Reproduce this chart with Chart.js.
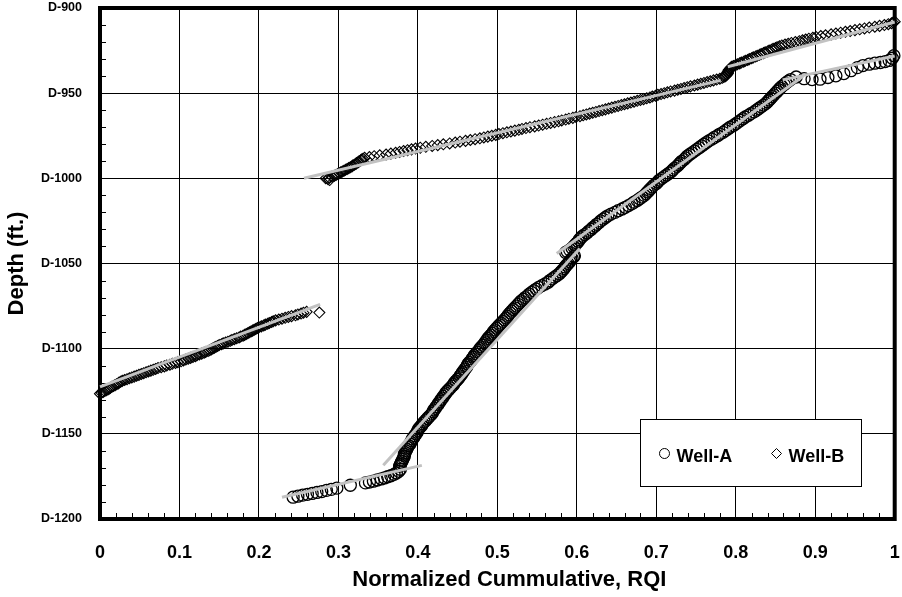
<!DOCTYPE html>
<html>
<head>
<meta charset="utf-8">
<script src="https://cdn.jsdelivr.net/npm/chart.js@4.4.1/dist/chart.umd.min.js"></script>
<style>
  html, body { margin: 0; padding: 0; background: #ffffff; }
  #wrap { width: 902px; height: 597px; }
</style>
</head>
<body>
<div id="wrap"><canvas id="chart" width="902" height="597"></canvas></div>
<script>
// ---- axis tick values and labels ----
const rqiTickValues = [0, 0.1, 0.2, 0.3, 0.4, 0.5, 0.6, 0.7, 0.8, 0.9, 1];
const rqiTickLabels = ['0', '0.1', '0.2', '0.3', '0.4', '0.5', '0.6', '0.7', '0.8', '0.9', '1'];
const depthTickValues = [900, 950, 1000, 1050, 1100, 1150, 1200];
const depthTickLabels = ['D-900', 'D-950', 'D-1000', 'D-1050', 'D-1100', 'D-1150', 'D-1200'];
const xAxisTitle = 'Normalized Cummulative, RQI';
const yAxisTitle = 'Depth (ft.)';

// ---- Well-A: normalized cumulative RQI vs depth (ft) ----
const wellA_depth = [
  // lower unit
  1187.2, 1186.6, 1186.0, 1185.5, 1185.0, 1184.4, 1183.9, 1183.2, 1182.6, 1181.9,
  1180.2, 1178.8, 1178.3, 1177.8, 1177.1, 1176.5, 1175.9, 1175.2, 1174.6, 1173.8,
  1173.0, 1172.0, 1170.8,
  // steep unit
  1169, 1167, 1165, 1163, 1161, 1159, 1157, 1155, 1153, 1151,
  1149, 1147, 1145, 1143, 1141, 1139, 1137, 1135, 1133, 1131,
  1129, 1127, 1125, 1123, 1121, 1119, 1117, 1115, 1113, 1111,
  1109, 1107, 1105, 1103, 1101, 1099, 1097, 1095, 1093, 1091,
  1089, 1087, 1085, 1083, 1081, 1079, 1077, 1075, 1073, 1071,
  1069, 1067, 1065, 1063, 1061, 1059, 1057, 1055, 1053, 1051,
  1049, 1047, 1045.5,
  1168, 1166, 1164, 1162, 1160, 1158, 1156, 1154, 1152, 1150,
  1148, 1146, 1144, 1142, 1140, 1138, 1136, 1134, 1132, 1130,
  1128, 1126, 1124, 1122, 1120, 1118, 1116, 1114, 1112, 1110,
  1108, 1106, 1104, 1102, 1100, 1098, 1096, 1094, 1092, 1090,
  1088, 1086, 1084, 1082, 1080, 1078, 1076, 1074, 1072, 1070,
  1068, 1066, 1064, 1062, 1060, 1058, 1056, 1054, 1052, 1050,
  1048, 1046,
  // middle unit
  1043.5, 1042, 1040, 1038, 1036, 1034, 1032, 1030, 1028, 1026,
  1024, 1022, 1020, 1018, 1016, 1014, 1012, 1010, 1008, 1006,
  1004, 1002, 1000, 998, 996, 994, 992, 990, 988, 986,
  984, 982, 980, 978, 976, 974, 972, 970, 968, 966,
  964, 962, 960, 958, 956, 954, 952, 950, 948, 946,
  944, 942,
  1043, 1041, 1039, 1037, 1035, 1033, 1031, 1029, 1027, 1025,
  1023, 1021, 1019, 1017, 1015, 1013, 1011, 1009, 1007, 1005,
  1003, 1001, 999, 997, 995, 993, 991, 989, 987, 985,
  983, 981, 979, 977, 975, 973, 971, 969, 967, 965,
  963, 961, 959, 957, 955, 953, 951, 949, 947, 945,
  943,
  // upper unit
  940.5, 941.5, 942.0, 941.8, 940.8, 939.8, 938.5, 936.8, 935.0, 933.8,
  933.0, 932.4, 932.0, 931.5, 930.8, 929.5, 928.0
];
const wellA_rqi = [
  // lower unit
  0.243, 0.249, 0.255, 0.261, 0.267, 0.273, 0.279, 0.285, 0.291, 0.298,
  0.315, 0.334, 0.339, 0.344, 0.349, 0.354, 0.358, 0.362, 0.366, 0.370,
  0.373, 0.376, 0.378,
  // steep unit
  0.377, 0.379, 0.381, 0.383, 0.384, 0.386, 0.388, 0.391, 0.393, 0.396,
  0.399, 0.401, 0.405, 0.408, 0.412, 0.416, 0.419, 0.422, 0.425, 0.428,
  0.431, 0.434, 0.437, 0.441, 0.445, 0.448, 0.452, 0.455, 0.458, 0.461,
  0.463, 0.467, 0.470, 0.473, 0.477, 0.480, 0.484, 0.487, 0.490, 0.494,
  0.497, 0.501, 0.505, 0.509, 0.513, 0.516, 0.520, 0.524, 0.528, 0.533,
  0.538, 0.543, 0.549, 0.556, 0.564, 0.569, 0.575, 0.580, 0.584, 0.587,
  0.591, 0.594, 0.597,
  0.378, 0.380, 0.382, 0.383, 0.385, 0.387, 0.390, 0.392, 0.395, 0.398,
  0.400, 0.403, 0.406, 0.410, 0.414, 0.418, 0.420, 0.423, 0.426, 0.429,
  0.432, 0.435, 0.439, 0.443, 0.446, 0.450, 0.453, 0.456, 0.459, 0.462,
  0.465, 0.468, 0.471, 0.475, 0.478, 0.482, 0.485, 0.488, 0.492, 0.495,
  0.499, 0.503, 0.507, 0.511, 0.514, 0.518, 0.522, 0.526, 0.530, 0.535,
  0.540, 0.546, 0.552, 0.560, 0.566, 0.572, 0.578, 0.582, 0.585, 0.589,
  0.592, 0.596,
  // middle unit
  0.586, 0.591, 0.596, 0.600, 0.603, 0.607, 0.613, 0.618, 0.623, 0.628,
  0.633, 0.639, 0.648, 0.657, 0.665, 0.672, 0.679, 0.685, 0.689, 0.693,
  0.697, 0.702, 0.707, 0.713, 0.719, 0.723, 0.728, 0.732, 0.737, 0.742,
  0.748, 0.754, 0.760, 0.766, 0.773, 0.780, 0.787, 0.793, 0.800, 0.806,
  0.812, 0.819, 0.826, 0.832, 0.838, 0.842, 0.846, 0.850, 0.854, 0.858,
  0.863, 0.869,
  0.588, 0.594, 0.598, 0.602, 0.605, 0.610, 0.615, 0.620, 0.625, 0.630,
  0.636, 0.643, 0.652, 0.661, 0.669, 0.676, 0.682, 0.687, 0.691, 0.695,
  0.700, 0.704, 0.710, 0.716, 0.721, 0.726, 0.730, 0.735, 0.739, 0.745,
  0.751, 0.757, 0.763, 0.770, 0.777, 0.784, 0.790, 0.797, 0.803, 0.809,
  0.816, 0.823, 0.829, 0.835, 0.840, 0.844, 0.848, 0.852, 0.856, 0.861,
  0.866,
  // upper unit
  0.876, 0.886, 0.896, 0.906, 0.916, 0.926, 0.936, 0.945, 0.953, 0.960,
  0.968, 0.975, 0.982, 0.988, 0.993, 0.997, 0.999
];

// ---- Well-B: normalized cumulative RQI vs depth (ft) ----
const wellB_depth = [
  // lower unit
  1126.4, 1125.4, 1124.4, 1123.4, 1122.4, 1121.4, 1120.4, 1119.4, 1118.4, 1117.4,
  1116.4, 1115.4, 1114.4, 1113.4, 1112.4, 1111.4, 1110.4, 1109.4, 1108.4, 1107.4,
  1106.4, 1105.4, 1104.4, 1103.4, 1102.4, 1101.4, 1100.4, 1099.4, 1098.4, 1097.4,
  1096.4, 1095.4, 1094.4, 1093.4, 1092.4, 1091.4, 1090.4, 1089.4, 1088.4, 1087.4,
  1086.4, 1085.4, 1084.4, 1083.4, 1082.4, 1081.4, 1080.4, 1079.4, 1078.4, 1078.8,
  1125.9, 1124.9, 1123.9, 1122.9, 1121.9, 1120.9, 1119.9, 1118.9, 1117.9, 1116.9,
  1115.9, 1114.9, 1113.9, 1112.9, 1111.9, 1110.9, 1109.9, 1108.9, 1107.9, 1106.9,
  1105.9, 1104.9, 1103.9, 1102.9, 1101.9, 1100.9, 1099.9, 1098.9, 1097.9, 1096.9,
  1095.9, 1094.9, 1093.9, 1092.9, 1091.9, 1090.9, 1089.9, 1088.9, 1087.9, 1086.9,
  1085.9, 1084.9, 1083.9, 1082.9, 1081.9, 1080.9, 1079.9, 1078.9,
  // upper unit
  1001, 1000, 999, 998, 997, 996, 995, 994, 993, 992,
  991, 990, 989, 988, 987, 986, 985, 984, 983, 982,
  981, 980, 979, 978, 977, 976, 975, 974, 973, 972,
  971, 970, 969, 968, 967, 966, 965, 964, 963, 962,
  961, 960, 959, 958, 957, 956, 955, 954, 953, 952,
  951, 950, 949, 948, 947, 946, 945, 944, 943, 942,
  941, 940, 939, 938, 937, 936, 935, 934, 933, 932,
  931, 930, 929, 928, 927, 926, 925, 924, 923, 922,
  921, 920, 919, 918, 917, 916, 915, 914, 913, 912,
  911, 910, 909, 908,
  1000.5, 999.5, 998.5, 997.5, 996.5, 995.5, 994.5, 993.5, 992.5, 991.5,
  990.5, 989.5, 988.5, 987.5, 986.5, 985.5, 984.5, 983.5, 982.5, 981.5,
  980.5, 979.5, 978.5, 977.5, 976.5, 975.5, 974.5, 973.5, 972.5, 971.5,
  970.5, 969.5, 968.5, 967.5, 966.5, 965.5, 964.5, 963.5, 962.5, 961.5,
  960.5, 959.5, 958.5, 957.5, 956.5, 955.5, 954.5, 953.5, 952.5, 951.5,
  950.5, 949.5, 948.5, 947.5, 946.5, 945.5, 944.5, 943.5, 942.5, 941.5,
  940.5, 939.5, 938.5, 937.5, 936.5, 935.5, 934.5, 933.5, 932.5, 931.5,
  930.5, 929.5, 928.5, 927.5, 926.5, 925.5, 924.5, 923.5, 922.5, 921.5,
  920.5, 919.5, 918.5, 917.5, 916.5, 915.5, 914.5, 913.5, 912.5, 911.5,
  910.5, 909.5, 908.5
];
const wellB_rqi = [
  // lower unit
  0.000, 0.004, 0.008, 0.012, 0.015, 0.019, 0.023, 0.026, 0.031, 0.037,
  0.043, 0.049, 0.055, 0.061, 0.067, 0.073, 0.081, 0.088, 0.095, 0.102,
  0.108, 0.114, 0.120, 0.125, 0.131, 0.136, 0.140, 0.144, 0.148, 0.153,
  0.158, 0.164, 0.169, 0.175, 0.180, 0.184, 0.188, 0.192, 0.196, 0.200,
  0.206, 0.211, 0.216, 0.221, 0.229, 0.237, 0.246, 0.253, 0.260, 0.276,
  0.002, 0.006, 0.010, 0.013, 0.017, 0.021, 0.024, 0.028, 0.034, 0.040,
  0.046, 0.052, 0.058, 0.064, 0.070, 0.077, 0.084, 0.091, 0.098, 0.105,
  0.111, 0.117, 0.122, 0.128, 0.133, 0.138, 0.142, 0.146, 0.150, 0.155,
  0.161, 0.166, 0.172, 0.177, 0.182, 0.186, 0.190, 0.194, 0.198, 0.203,
  0.208, 0.213, 0.218, 0.225, 0.233, 0.241, 0.249, 0.256,
  // upper unit
  0.289, 0.284, 0.292, 0.297, 0.301, 0.305, 0.309, 0.313, 0.317, 0.320,
  0.323, 0.326, 0.329, 0.333, 0.345, 0.360, 0.372, 0.382, 0.392, 0.403,
  0.418, 0.432, 0.447, 0.460, 0.472, 0.483, 0.493, 0.502, 0.512, 0.522,
  0.531, 0.541, 0.552, 0.562, 0.572, 0.581, 0.590, 0.599, 0.608, 0.616,
  0.624, 0.632, 0.640, 0.648, 0.656, 0.664, 0.672, 0.680, 0.688, 0.695,
  0.702, 0.710, 0.718, 0.727, 0.735, 0.743, 0.752, 0.760, 0.768, 0.776,
  0.783, 0.787, 0.789, 0.790, 0.791, 0.792, 0.794, 0.797, 0.802, 0.807,
  0.812, 0.817, 0.822, 0.827, 0.832, 0.837, 0.842, 0.847, 0.852, 0.858,
  0.866, 0.875, 0.884, 0.892, 0.901, 0.913, 0.926, 0.938, 0.950, 0.962,
  0.975, 0.987, 0.996, 1.000,
  0.287, 0.288, 0.295, 0.299, 0.303, 0.307, 0.311, 0.315, 0.318, 0.322,
  0.325, 0.328, 0.331, 0.339, 0.352, 0.366, 0.377, 0.387, 0.397, 0.410,
  0.425, 0.440, 0.453, 0.466, 0.478, 0.488, 0.498, 0.507, 0.517, 0.527,
  0.536, 0.547, 0.557, 0.567, 0.577, 0.586, 0.595, 0.604, 0.612, 0.620,
  0.628, 0.636, 0.644, 0.652, 0.660, 0.668, 0.676, 0.684, 0.692, 0.699,
  0.706, 0.714, 0.723, 0.731, 0.739, 0.748, 0.756, 0.764, 0.772, 0.780,
  0.785, 0.788, 0.790, 0.790, 0.791, 0.793, 0.795, 0.800, 0.805, 0.810,
  0.815, 0.820, 0.825, 0.830, 0.835, 0.840, 0.845, 0.850, 0.855, 0.862,
  0.870, 0.880, 0.888, 0.897, 0.907, 0.920, 0.932, 0.944, 0.956, 0.968,
  0.981, 0.992, 0.998
];

// ---- straight-line fits for each flow unit: [start, end] ----
const trendA_rqi   = [[0.229, 0.405], [0.3565, 0.6037], [0.5747, 0.8847], [0.859, 1.0]];
const trendA_depth = [[1187.2, 1168.5], [1168.5, 1041.2], [1044.1, 940.1], [942.2, 928.2]];
const trendB_rqi   = [[0.0, 0.277], [0.2567, 0.781], [0.79, 1.0]];
const trendB_depth = [[1122.4, 1074.0], [1000.0, 942.5], [934.5, 908.2]];

const FONT = '"Liberation Sans", Arial, Helvetica, sans-serif';
const TREND_COLOR = '#c2c2c2';

const toPoints = (xs, ys) => xs.map((x, i) => ({ x: x, y: ys[i] }));

const markerDatasets = [
  {
    label: 'Well-A',
    data: toPoints(wellA_rqi, wellA_depth),
    showLine: false,
    pointStyle: 'circle',
    pointRadius: 6,
    pointBorderWidth: 1.3,
    pointBorderColor: '#000000',
    pointBackgroundColor: 'rgba(0,0,0,0)',
    clip: false,
    order: 2
  },
  {
    label: 'Well-B',
    data: toPoints(wellB_rqi, wellB_depth),
    showLine: false,
    pointStyle: 'rectRot',
    pointRadius: 5.5,
    pointBorderWidth: 1.1,
    pointBorderColor: '#000000',
    pointBackgroundColor: 'rgba(0,0,0,0)',
    clip: false,
    order: 2
  }
];

const trendDatasets = [];
trendA_rqi.forEach((xs, i) => trendDatasets.push({ label: 'Well-A fit ' + (i + 1), data: toPoints(xs, trendA_depth[i]) }));
trendB_rqi.forEach((xs, i) => trendDatasets.push({ label: 'Well-B fit ' + (i + 1), data: toPoints(xs, trendB_depth[i]) }));
trendDatasets.forEach(d => Object.assign(d, {
  showLine: true,
  borderColor: TREND_COLOR,
  borderWidth: 3,
  pointRadius: 0,
  fill: false,
  clip: false,
  order: 1
}));

// Heavy plot frame plus short inward minor ticks on the left and bottom axes
const frameAndMinorTicks = {
  id: 'frameAndMinorTicks',
  beforeDatasetsDraw(chart) {
    const { ctx, chartArea: a, scales: { x, y } } = chart;
    ctx.save();
    ctx.strokeStyle = '#000000';
    ctx.lineWidth = 1;
    ctx.beginPath();
    for (let i = 1; i < 50; i++) {
      if (i % 5 === 0) continue;
      const px = Math.round(x.getPixelForValue(i * 0.02)) + 0.5;
      ctx.moveTo(px, a.bottom);
      ctx.lineTo(px, a.bottom - 6);
    }
    for (let d = 910; d < 1200; d += 10) {
      if (d % 50 === 0) continue;
      const py = Math.round(y.getPixelForValue(d)) + 0.5;
      ctx.moveTo(a.left, py);
      ctx.lineTo(a.left + 6, py);
    }
    ctx.stroke();
    ctx.lineWidth = 4;
    ctx.strokeRect(a.left, a.top, a.right - a.left, a.bottom - a.top);
    ctx.restore();
  }
};

// Horizontal axis title, set a little right of the plot centre
const xTitle = {
  id: 'xTitle',
  afterDraw(chart) {
    const { ctx, chartArea: a } = chart;
    ctx.save();
    ctx.font = 'bold 22px ' + FONT;
    ctx.fillStyle = '#000000';
    ctx.textAlign = 'center';
    ctx.textBaseline = 'middle';
    ctx.fillText(xAxisTitle, (a.left + a.right) / 2 + 12, 580);
    ctx.restore();
  }
};

// Boxed legend in the lower-right corner of the plot
const boxedLegend = {
  id: 'boxedLegend',
  afterDraw(chart) {
    const { ctx, chartArea: a } = chart;
    const boxW = 221, boxH = 67;
    const bx = Math.round(a.right - 34 - boxW) + 0.5;
    const by = Math.round(a.bottom - 33 - boxH) + 0.5;
    ctx.save();
    ctx.fillStyle = '#ffffff';
    ctx.fillRect(bx, by, boxW, boxH);
    ctx.strokeStyle = '#000000';
    ctx.lineWidth = 1;
    ctx.strokeRect(bx, by, boxW, boxH);

    const items = chart.data.datasets.filter(d => d.label === 'Well-A' || d.label === 'Well-B');
    const markerY = by + 34;
    const itemX = [bx + 24, bx + 136];
    ctx.font = 'bold 18px ' + FONT;
    ctx.textBaseline = 'middle';
    ctx.textAlign = 'left';
    ctx.fillStyle = '#000000';
    items.forEach((d, i) => {
      const mx = itemX[i];
      ctx.beginPath();
      if (d.pointStyle === 'circle') {
        ctx.arc(mx, markerY, 5, 0, Math.PI * 2);
      } else {
        ctx.moveTo(mx - 5, markerY);
        ctx.lineTo(mx, markerY - 5);
        ctx.lineTo(mx + 5, markerY);
        ctx.lineTo(mx, markerY + 5);
        ctx.closePath();
      }
      ctx.lineWidth = 1;
      ctx.strokeStyle = '#000000';
      ctx.stroke();
      ctx.fillText(d.label, mx + 12, markerY + 4);
    });
    ctx.restore();
  }
};

new Chart(document.getElementById('chart'), {
  type: 'scatter',
  data: { datasets: [...trendDatasets, ...markerDatasets] },
  options: {
    responsive: false,
    animation: false,
    devicePixelRatio: 1,
    layout: { padding: { top: 8, right: 7, bottom: 0, left: 0 } },
    plugins: {
      legend: { display: false },
      tooltip: { enabled: false }
    },
    scales: {
      x: {
        type: 'linear',
        min: 0,
        max: 1,
        afterBuildTicks: s => { s.ticks = rqiTickValues.map(v => ({ value: v })); },
        afterFit: s => { s.height = 78; s.paddingLeft = 0; s.paddingRight = 0; },
        grid: { color: '#000000', lineWidth: 1, drawTicks: false },
        border: { display: false },
        ticks: {
          padding: 23,
          color: '#000000',
          font: { family: FONT, size: 18, weight: 'bold' },
          maxRotation: 0,
          autoSkip: false,
          callback: (v, i) => rqiTickLabels[i]
        },
        title: { display: false, text: xAxisTitle }
      },
      y: {
        type: 'linear',
        min: 900,
        max: 1200,
        reverse: true,
        afterBuildTicks: s => { s.ticks = depthTickValues.map(v => ({ value: v })); },
        afterFit: s => { s.width = 100; s.paddingTop = 0; s.paddingBottom = 0; },
        grid: { color: '#000000', lineWidth: 1, drawTicks: false },
        border: { display: false },
        ticks: {
          padding: 18,
          color: '#000000',
          font: { family: FONT, size: 12.5, weight: 'bold' },
          autoSkip: false,
          callback: (v, i) => depthTickLabels[i]
        },
        title: {
          display: true,
          text: yAxisTitle,
          color: '#000000',
          font: { family: FONT, size: 22, weight: 'bold' },
          padding: { top: 4, bottom: 0 }
        }
      }
    }
  },
  plugins: [frameAndMinorTicks, xTitle, boxedLegend]
});
</script>
</body>
</html>
